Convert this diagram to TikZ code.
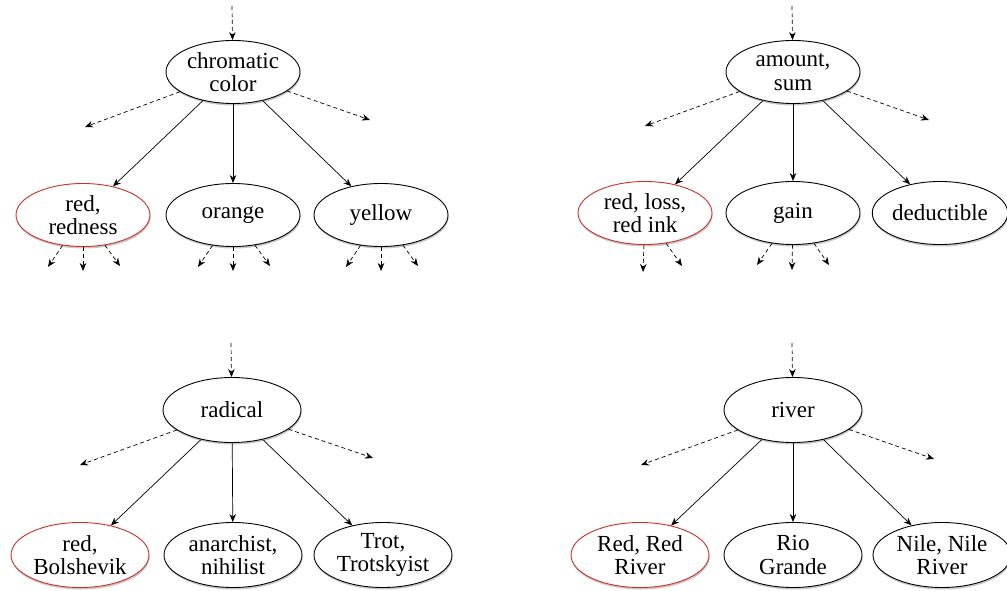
\documentclass[tikz,border=0pt]{standalone}
\usepackage{fontspec}
\setmainfont{Liberation Serif}
\usetikzlibrary{shapes.geometric,arrows.meta,shadows}
\definecolor{redline}{RGB}{205,45,40}
\tikzset{
  concept/.style={ellipse, draw=black, line width=0.9pt, fill=white,
    minimum width=134pt, minimum height=63pt, inner sep=0pt, align=center,
    font=\fontsize{23}{23.5}\selectfont,
    drop shadow={shadow xshift=0.6pt, shadow yshift=-2pt, opacity=0.22, fill=black}},
  bigconcept/.style={concept, minimum width=138pt, minimum height=65pt},
  redconcept/.style={draw=redline},
  hyp/.style={-{Stealth[length=8pt,width=6.5pt]}, line width=0.7pt},
  hypd/.style={hyp, dash pattern=on 4pt off 3pt},
}
\begin{document}
\begin{tikzpicture}[x=1pt,y=-1pt]
\useasboundingbox (0,0) rectangle (1007,591);

% ---------- top-left tree ----------
\node[concept] (r1) at (233,72) {chromatic\\color};
\node[concept,redconcept] (a1) at (83,215) {red,\\redness};
\node[concept] (b1) at (233,215) {orange};
\node[concept] (c1) at (381,215) {yellow};
\coordinate (in1) at (232,6);
\coordinate (l1) at (85,127);
\coordinate (rt1) at (370,120);
\draw[hypd] (in1) -- (r1);
\draw[hypd] (r1) -- (l1);
\draw[hypd] (r1) -- (rt1);
\draw[hyp] (r1) -- (a1);
\draw[hyp] (r1) -- (b1);
\draw[hyp] (r1) -- (c1);
\foreach \n in {a1,b1,c1}{
  \coordinate (\n L) at ([shift={(-35,52)}]\n.center);
  \coordinate (\n M) at ([shift={(0,56)}]\n.center);
  \coordinate (\n R) at ([shift={(37,51)}]\n.center);
  \draw[hypd] (\n) -- (\n L);
  \draw[hypd] (\n) -- (\n M);
  \draw[hypd] (\n) -- (\n R);
}

% ---------- top-right tree ----------
\node[concept] (r2) at (793,72) {amount,\\sum};
\node[concept,redconcept] (a2) at (645,213) {red, loss,\\red ink};
\node[concept] (b2) at (793,213) {gain};
\node[concept] (c2) at (940,213) {deductible};
\coordinate (in2) at (792,6);
\coordinate (l2) at (645,126);
\coordinate (rt2) at (929,120);
\draw[hypd] (in2) -- (r2);
\draw[hypd] (r2) -- (l2);
\draw[hypd] (r2) -- (rt2);
\draw[hyp] (r2) -- (a2);
\draw[hyp] (r2) -- (b2);
\draw[hyp] (r2) -- (c2);
\coordinate (a2M) at ([shift={(-2,59)}]a2.center);
\coordinate (a2R) at ([shift={(37,53)}]a2.center);
\draw[hypd] (a2) -- (a2M);
\draw[hypd] (a2) -- (a2R);
\coordinate (b2L) at ([shift={(-36,52)}]b2.center);
\coordinate (b2M) at ([shift={(-1,57)}]b2.center);
\coordinate (b2R) at ([shift={(36,52)}]b2.center);
\draw[hypd] (b2) -- (b2L);
\draw[hypd] (b2) -- (b2M);
\draw[hypd] (b2) -- (b2R);

% ---------- bottom-left tree ----------
\node[bigconcept] (r3) at (232,410) {radical};
\node[bigconcept,redconcept] (a3) at (80,555) {red,\\Bolshevik};
\node[bigconcept] (b3) at (233,555) {anarchist,\\nihilist};
\node[bigconcept] (c3) at (383,555) {Trot,\\Trotskyist};
\coordinate (in3) at (231,343);
\coordinate (l3) at (80,465);
\coordinate (rt3) at (373,458);
\draw[hypd] (in3) -- (r3);
\draw[hypd] (r3) -- (l3);
\draw[hypd] (r3) -- (rt3);
\draw[hyp] (r3) -- (a3);
\draw[hyp] (r3) -- (b3);
\draw[hyp] (r3) -- (c3);

% ---------- bottom-right tree ----------
\node[bigconcept] (r4) at (793,410) {river};
\node[bigconcept,redconcept] (a4) at (640,555) {Red, Red\\River};
\node[bigconcept] (b4) at (793,555) {Rio\\Grande};
\node[bigconcept] (c4) at (942,555) {Nile, Nile\\River};
\coordinate (in4) at (792,343);
\coordinate (l4) at (641,465);
\coordinate (rt4) at (934,459);
\draw[hypd] (in4) -- (r4);
\draw[hypd] (r4) -- (l4);
\draw[hypd] (r4) -- (rt4);
\draw[hyp] (r4) -- (a4);
\draw[hyp] (r4) -- (b4);
\draw[hyp] (r4) -- (c4);
\end{tikzpicture}
\end{document}
